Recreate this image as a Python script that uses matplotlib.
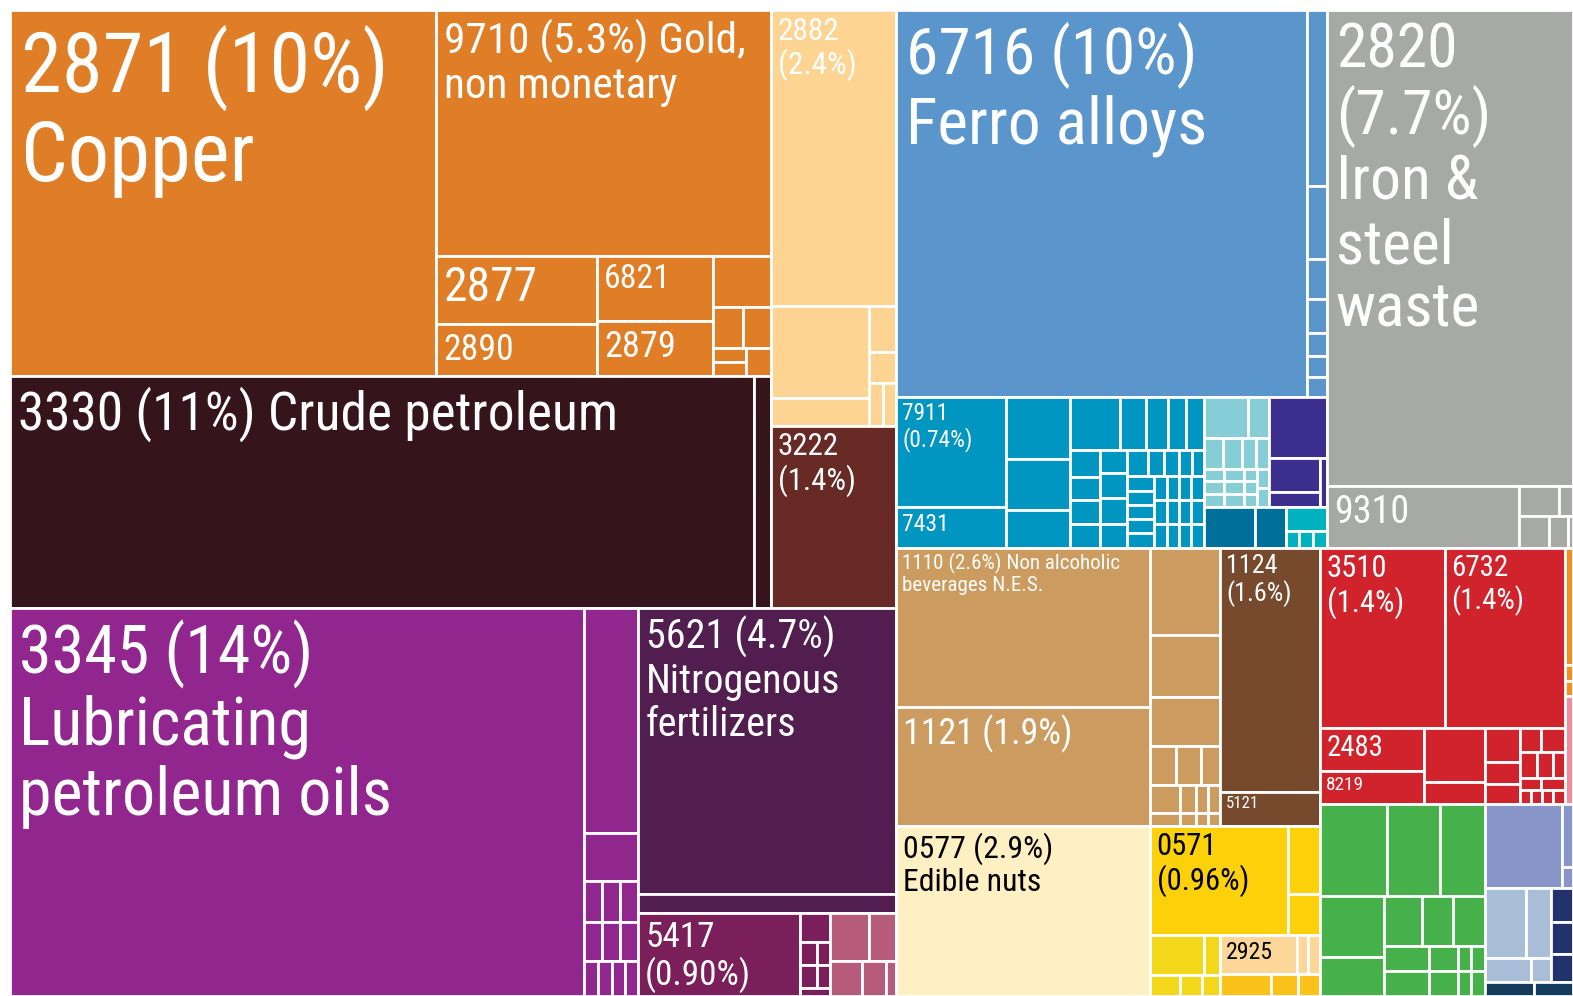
import os
import matplotlib.pyplot as plt
from matplotlib import font_manager as fm
from matplotlib.patches import Rectangle

# share of exports (%) per product, one list per colour group
copper_vals = [10.12, 5.35, 0.71, 0.54, 0.49, 0.41, 0.19, 0.078, 0.075, 0.03, 0.03, 0.047]
crude_vals = [11.2, 0.256]
peach_vals = [2.40, 0.585, 0.178, 0.081, 0.054, 0.038, 0.037]
fuel_vals = [1.48]
lub_vals = [14.45, 0.79, 0.168, 0.048, 0.048, 0.048, 0.046, 0.046, 0.046, 0.031, 0.031, 0.030, 0.030]
fert_vals = [4.79, 0.32]
plast_vals = [0.87, 0.055, 0.025, 0.02, 0.025, 0.02, 0.015]
mauve_vals = [0.12, 0.084, 0.073, 0.055, 0.023]
ferro_vals = [10.29, 0.228, 0.095, 0.052, 0.044, 0.029, 0.027, 0.026]
mach_vals = [0.785, 0.29, 0.26, 0.21, 0.158, 0.175, 0.091, 0.074, 0.065, 0.062,
             0.05, 0.045, 0.045, 0.046, 0.04, 0.045, 0.045, 0.043,
             0.035, 0.028, 0.025, 0.022, 0.02, 0.025, 0.025, 0.025, 0.025, 0.025,
             0.0192, 0.0192, 0.0192, 0.0192, 0.0192, 0.0192, 0.0192, 0.0192,
             0.0192, 0.0192, 0.0192, 0.0192]
lteal_vals = [0.12, 0.055, 0.038, 0.038, 0.026, 0.026, 0.017, 0.017, 0.017,
              0.016, 0.016, 0.016, 0.011, 0.011, 0.011, 0.0145, 0.0145]
violet_vals = [0.23, 0.113, 0.05, 0.022]
dteal_vals = [0.136, 0.08]
teal_vals = [0.064, 0.015, 0.015, 0.015]
grey_vals = [7.60, 0.77, 0.078, 0.027, 0.062, 0.04, 0.01]
tan_vals = [2.62, 1.96, 0.395, 0.282, 0.223, 0.066, 0.061, 0.05,
            0.055, 0.029, 0.022, 0.022, 0.025, 0.013, 0.01, 0.01]
brown_vals = [1.58, 0.22]
cream_vals = [2.80]
yellow_vals = [0.976, 0.141, 0.085]
yellow2_vals = [0.14, 0.042, 0.04, 0.03, 0.025]
lpeach_vals = [0.195, 0.028, 0.03]
gold_vals = [0.073, 0.039, 0.031]
red_vals = [1.46, 1.40, 0.29, 0.223, 0.214, 0.087, 0.077, 0.05, 0.045, 0.033, 0.037,
            0.029, 0.027, 0.02, 0.016, 0.019, 0.01, 0.01, 0.01, 0.011]
orange_vals = [0.061, 0.008, 0.008]
pink_vals = [0.056]
green_vals = [0.40, 0.316, 0.269, 0.253, 0.162, 0.123, 0.10, 0.104,
              0.073, 0.073, 0.047, 0.047, 0.022, 0.022, 0.022, 0.022]
peri_vals = [0.42, 0.045, 0.015]
lblue_vals = [0.186, 0.114, 0.072, 0.031]
navy_vals = [0.049, 0.046, 0.04]
dnavy_vals = [0.045, 0.035]

# labels: (group, index in its list, text, font size, widest line in px, colour)
labels = [
    ("copper", 0, "2871 (10%)\nCopper", 68, 368, "white"),
    ("copper", 1, "9710 (5.3%) Gold,\nnon monetary", 36, 301, "white"),
    ("copper", 2, "2877", 40, 94, "white"),
    ("copper", 3, "2890", 30, 71, "white"),
    ("copper", 4, "6821", 33, 67, "white"),
    ("copper", 5, "2879", 32, 72, "white"),
    ("crude", 0, "3330 (11%) Crude petroleum", 43, 600, "white"),
    ("peach", 0, "2882\n(2.4%)", 25, 79, "white"),
    ("fuel", 0, "3222\n(1.4%)", 29, 78, "white"),
    ("lub", 0, "3345 (14%)\nLubricating\npetroleum oils", 57, 372, "white"),
    ("fert", 0, "5621 (4.7%)\nNitrogenous\nfertilizers", 35, 194, "white"),
    ("plast", 0, "5417\n(0.90%)", 28, 106, "white"),
    ("ferro", 0, "6716 (10%)\nFerro alloys", 58, 301, "white"),
    ("grey", 0, "2820\n(7.7%)\nIron &\nsteel\nwaste", 55, 155, "white"),
    ("grey", 1, "9310", 35, 75, "white"),
    ("mach", 0, "7911\n(0.74%)", 21, 70, "white"),
    ("mach", 1, "7431", 26, 47, "white"),
    ("tan", 0, "1110 (2.6%) Non alcoholic\nbeverages N.E.S.", 21, 217, "white"),
    ("tan", 1, "1121 (1.9%)", 38, 169, "white"),
    ("brown", 0, "1124\n(1.6%)", 25, 66, "white"),
    ("brown", 1, "5121", 19, 33, "white"),
    ("cream", 0, "0577 (2.9%)\nEdible nuts", 28, 150, "black"),
    ("yellow", 0, "0571\n(0.96%)", 27, 92, "black"),
    ("lpeach", 0, "2925", 21, 47, "black"),
    ("red", 0, "3510\n(1.4%)", 30, 77, "white"),
    ("red", 1, "6732\n(1.4%)", 29, 73, "white"),
    ("red", 2, "2483", 26, 57, "white"),
    ("red", 3, "8219", 19, 38, "white"),
]


def H(*kids):
    return ("h", list(kids))


def V(*kids):
    return ("v", list(kids))


# values, colour, nesting of the cells inside each group
groups = {
    "copper": (copper_vals, "#E07E27", H(0, V(1, H(V(2, 3), V(4, 5), V(6, H(7, 8), H(V(9, 10), 11)))))),
    "crude": (crude_vals, "#35151B", H(0, 1)),
    "peach": (peach_vals, "#FDD491", V(0, H(V(1, 2), V(3, 4, H(5, 6))))),
    "fuel": (fuel_vals, "#672A25", 0),
    "lub": (lub_vals, "#91278E", H(0, V(1, 2, H(3, 4, 5), H(6, 7, 8), H(9, 10, 11, 12)))),
    "fert": (fert_vals, "#521D4F", V(0, 1)),
    "plast": (plast_vals, "#7B1F5B", H(0, V(1, H(2, 3), H(4, 5), 6))),
    "mauve": (mauve_vals, "#B75B7B", V(H(0, 1), H(2, 3, 4))),
    "ferro": (ferro_vals, "#5A96CC", H(0, V(1, 2, 3, 4, 5, 6, 7))),
    "mach": (mach_vals, "#0096C1",
             H(V(0, 1), V(2, 3, 4),
               V(H(5, 6, 7, 8, 9),
                 H(V(10, 11, 12, 13), V(14, 15, 16, 17),
                   V(H(18, 19, 20, 21, 22),
                     H(V(23, 24, 25, 26, 27),
                       V(H(28, 29, 30, 31), H(32, 33, 34, 35), H(36, 37, 38, 39)))))))),
    "lteal": (lteal_vals, "#86CDD6",
              V(H(0, 1), H(2, 3, 4, 5), H(V(6, 7, 8), V(9, 10, 11), V(12, 13, 14), V(15, 16)))),
    "violet": (violet_vals, "#3C2F8F", V(0, H(V(1, 2), 3))),
    "dteal": (dteal_vals, "#00709A", H(0, 1)),
    "teal": (teal_vals, "#00B2BD", V(0, H(1, 2, 3))),
    "grey": (grey_vals, "#A7A9A7", V(0, H(1, V(H(2, 3), H(4, 5, 6))))),
    "tan": (tan_vals, "#CC9B5F",
            H(V(0, 1), V(2, 3, 4, H(5, 6, 7), H(8, 9, 10, 11), H(12, 13, 14, 15)))),
    "brown": (brown_vals, "#774A2E", V(0, 1)),
    "cream": (cream_vals, "#FEF0C3", 0),
    "yellow": (yellow_vals, "#FDD10A", H(0, V(1, 2))),
    "yellow2": (yellow2_vals, "#F2D71B", V(H(0, 1), H(2, 3, 4))),
    "lpeach": (lpeach_vals, "#FDD79A", H(0, 1, 2)),
    "gold": (gold_vals, "#FCC21C", H(0, 1, 2)),
    "red": (red_vals, "#D0232B",
            V(H(0, 1), H(V(2, 3), V(4, 5), V(6, 7, 8),
                         V(H(9, 10), H(11, 12, 13), H(14, 15), H(16, 17, 18, 19))))),
    "orange": (orange_vals, "#F58D1F", V(0, 1, 2)),
    "pink": (pink_vals, "#F08C9B", 0),
    "green": (green_vals, "#46B04A",
              V(H(0, 1, 2), H(V(3, 4), V(H(5, 6, 7), H(V(8, 9), V(10, 11), V(H(12, 13), H(14, 15))))))),
    "peri": (peri_vals, "#8795C8", H(0, V(1, 2))),
    "lblue": (lblue_vals, "#A8BED7", V(H(0, 1), H(2, 3))),
    "navy": (navy_vals, "#22336C", V(0, 1, 2)),
    "dnavy": (dnavy_vals, "#163C5D", H(0, 1)),
}

tree = H(
    V(H(V("copper", "crude"), V("peach", "fuel")),
      H("lub", V("fert", H("plast", "mauve")))),
    V(H(V("ferro", H("mach", V(H("lteal", "violet"), H("dteal", "teal")))), "grey"),
      H(V(H("tan", "brown"), H("cream", V("yellow", H("yellow2", V("lpeach", "gold"))))),
        V(H("red", V("orange", "pink")),
          H("green", V("peri", H("lblue", "navy"), "dnavy"))))),
)


def size(node, vals=None):
    if isinstance(node, str):
        return sum(groups[node][0])
    if isinstance(node, int):
        return vals[node]
    return sum(size(k, vals) for k in node[1])


cells = []


def place(node, x, y, w, h, vals=None, gname=None):
    if isinstance(node, str):
        place(groups[node][2], x, y, w, h, groups[node][0], node)
        return
    if isinstance(node, int):
        cells.append((gname, node, x, y, w, h))
        return
    d, kids = node
    sizes = [size(k, vals) for k in kids]
    tot = sum(sizes)
    pos = 0.0
    for k, s in zip(kids, sizes):
        f = s / tot
        if d == "h":
            place(k, x + pos * w, y, w * f, h, vals, gname)
        else:
            place(k, x, y + pos * h, w, h * f, vals, gname)
        pos += f


def pick_font():
    # a narrow sans is closest to the condensed face of the original
    regular = [f for f in fm.fontManager.ttflist
               if f.style == "normal" and f.weight in (400, "normal", "regular", "book")]
    narrow = [f for f in regular if f.stretch != "normal"]
    for key in ["LiberationSansNarrow", "RobotoCondensed", "NotoSans-Condensed",
                "NotoSans-ExtraCondensed", "NotoSans-SemiCondensed", "DejaVuSansCondensed"]:
        for f in narrow:
            if os.path.basename(f.fname).startswith(key):
                return fm.FontProperties(fname=f.fname)
    if narrow:
        return fm.FontProperties(fname=narrow[0].fname)
    return fm.FontProperties(family=["Roboto", "DejaVu Sans"])


place(tree, 0, 0, 1, 1)

fig = plt.figure(figsize=(15.73, 9.96), dpi=100)
ax = fig.add_axes([10 / 1573, 0, 1563 / 1573, 986 / 996])
ax.set_xlim(0, 1)
ax.set_ylim(1, 0)
ax.axis("off")

where = {}
for g, i, x, y, w, h in cells:
    ax.add_patch(Rectangle((x, y), w, h, facecolor=groups[g][1], edgecolor="white", linewidth=2))
    where[(g, i)] = (x, y)

fp = pick_font()
renderer = fig.canvas.get_renderer()


def offsets(fs):
    em = fs * 100 / 72
    return (4 + 0.08 * em) * 0.72, -(2 + 0.15 * em) * 0.72


for g, i, txt, fs, width_px, col in labels:
    x, y = where[(g, i)]
    t = ax.annotate(txt, (x, y), xytext=offsets(fs), textcoords="offset points",
                    ha="left", va="top", fontproperties=fp, fontsize=fs, color=col,
                    linespacing=1.12)
    # fit the widest line to the width it has in the original
    w_now = t.get_window_extent(renderer=renderer).width
    new_fs = fs * min(1.2, max(0.5, width_px / w_now))
    t.set_fontsize(new_fs)
    t.xyann = offsets(new_fs)

fig.savefig("out.png", dpi=100, facecolor="white")
